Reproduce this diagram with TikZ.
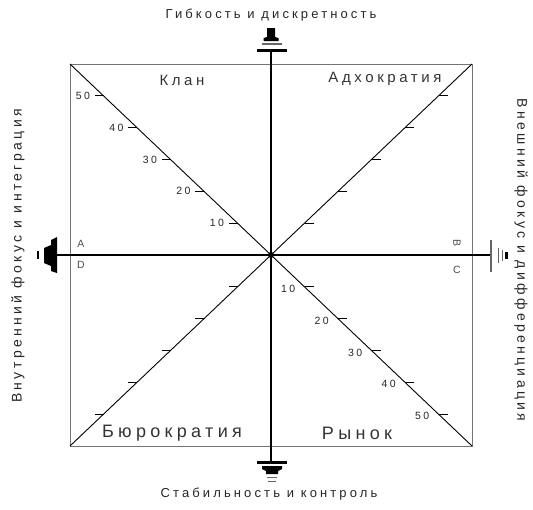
\documentclass[tikz,border=0pt]{standalone}
\usepackage{fontspec}
\setmainfont{Liberation Sans}[LetterSpace=24]
\usetikzlibrary{calc}
\begin{document}
\begin{tikzpicture}[x=1pt,y=-1pt,
  frame/.style={draw=black!55,line width=0.7pt},
  diag/.style={draw=black,line width=0.9pt},
  axis/.style={draw=black,line width=1.8pt},
  tick/.style={draw=black,line width=1.1pt},
  numlab/.style={font=\fontsize{10.5}{12}\selectfont,text=black!85,inner sep=1pt},
  quadtop/.style={font=\fontsize{15}{17}\selectfont,text=black!80,inner sep=0pt},
  quadbot/.style={font=\fontsize{18}{20}\selectfont,text=black!80,inner sep=0pt},
  titlelab/.style={font=\fontsize{13}{15}\selectfont,text=black!85,inner sep=0pt},
  sidelab/.style={font=\fontsize{14}{16}\selectfont,text=black!85,inner sep=0pt},
  cornlab/.style={font=\fontsize{10.5}{12}\selectfont,text=black!70,inner sep=0pt},
  symb/.style={fill=black},
  symbthin/.style={draw=black!60,line width=1.2pt}]
\useasboundingbox (0,0) rectangle (533,509);
% frame corners
\coordinate (TL) at (70,64);
\coordinate (TR) at (472,64);
\coordinate (BR) at (472,446);
\coordinate (BL) at (70,446);
\coordinate (O) at (271,255);
% axis ends
\coordinate (Atop) at (271,50);
\coordinate (Abot) at (271,462);
\coordinate (Aleft) at (57,255);
\coordinate (Aright) at (491,255);
\draw[frame] (TL) rectangle (BR);
\draw[diag] (TL) -- (BR);
\draw[diag] (TR) -- (BL);
\draw[axis] (Atop) -- (Abot);
\draw[axis] (Aleft) -- (Aright);
\fill (O) circle (3);
% ticks
\foreach \k/\lab in {1/10,2/20,3/30,4/40,5/50}{
  \coordinate (tl\k) at ($(O)!\k/6!(TL)$);
  \draw[tick] (tl\k) -- ++(-9,0) node[numlab,anchor=east,xshift=-3pt]{\lab};
  \coordinate (br\k) at ($(O)!\k/6!(BR)$);
  \draw[tick] (br\k) -- ++(9,0);
  \node[numlab,anchor=east] at ($(br\k)+(-8,2)$) {\lab};
  \coordinate (tr\k) at ($(O)!\k/6!(TR)$);
  \draw[tick] (tr\k) -- ++(9,0);
  \coordinate (bl\k) at ($(O)!\k/6!(BL)$);
  \draw[tick] (bl\k) -- ++(-9,0);
}
% top symbol
\fill[symb] (257,48.6) rectangle (287,51.6);
\draw[symbthin] (262,44) -- (282,44);
\fill[symb] (267,28) -- (275,28) -- (275,37) -- (278.5,38) -- (278.5,41) -- (263.5,41) -- (263.5,38) -- (267,37) -- cycle;
% bottom symbol
\fill[symb] (257,460.5) rectangle (287,463.5);
\fill[symb] (262,466) -- (282,466) -- (282,469) -- (278,471) -- (278,474) -- (266,474) -- (266,471) -- (262,469) -- cycle;
\draw[black!60,line width=0.9pt] (267,477.5) -- (277,477.5);
\draw[black!60,line width=0.9pt] (268,481) -- (276,481);
% left symbol
\fill[symb] (57,237) -- (57,273) -- (51,271) -- (51,266) -- (44,263) -- (44,248) -- (51,245) -- (51,240) -- cycle;
\fill[symb] (37,251) rectangle (39,259);
% right symbol
\draw[symbthin] (491,240) -- (491,272);
\draw[black!60,line width=1pt] (498,248) -- (498,263);
\draw[black!60,line width=1pt] (502,250) -- (502,261);
\fill[symb] (505,252) rectangle (507.5,259);
% titles
\node[titlelab] (ttop) at (271,15) {Гибкость и дискретность};
\node[titlelab] (tbot) at (269,494) {Стабильность и контроль};
\node[sidelab,rotate=90] (tleft) at (18,256) {Внутренний фокус и интеграция};
\node[sidelab,rotate=-90] (tright) at (521,260) {Внешний фокус и дифференциация};
% quadrant labels
\node[quadtop] (klan) at (182,80) {Клан};
\node[quadtop] (adh) at (385,79) {Адхократия};
\node[quadbot] (bur) at (172,433) {Бюрократия};
\node[quadbot] (ryn) at (357,433) {Рынок};
% corner letters
\node[cornlab] (la) at (81,244) {A};
\node[cornlab] (ld) at (81,265) {D};
\node[cornlab,rotate=-90] (lb) at (457,243) {B};
\node[cornlab] (lc) at (457,270) {C};
\end{tikzpicture}
\end{document}
